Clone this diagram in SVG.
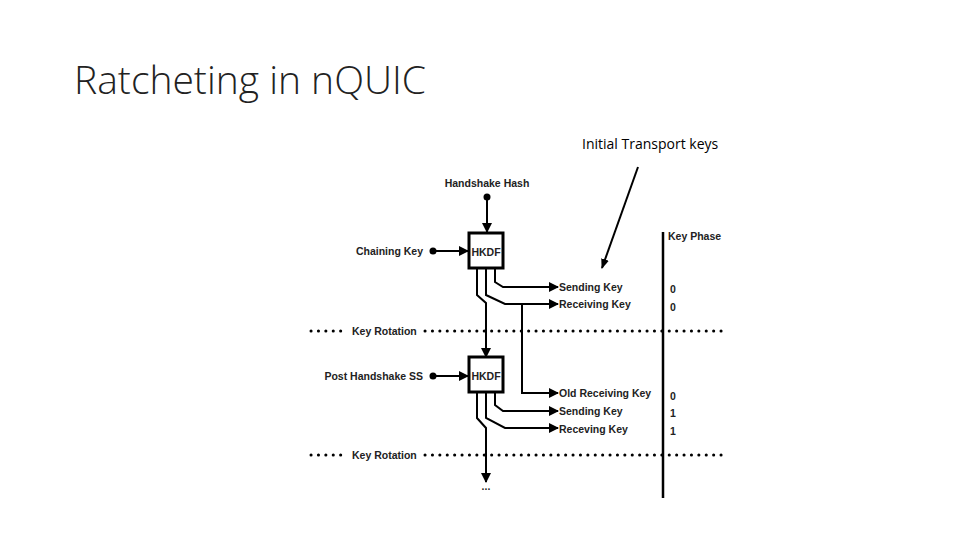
<svg xmlns="http://www.w3.org/2000/svg" width="960" height="540" viewBox="0 0 960 540">
<defs>
<marker id="ah" markerWidth="10" markerHeight="10" refX="9" refY="5" orient="auto" markerUnits="userSpaceOnUse"><path d="M0,0 L10,5 L0,10 Z" fill="#000"/></marker>
<marker id="ah2" markerWidth="10" markerHeight="10" refX="9" refY="5" orient="auto" markerUnits="userSpaceOnUse"><path d="M0,1 L10,5 L0,9 Z" fill="#000"/></marker>
<style>
.t{font-family:"Liberation Sans",Arial,sans-serif;font-weight:bold;font-size:10.5px;fill:#222}
.l{fill:none;stroke:#000;stroke-width:2}
.d{stroke:#000;stroke-width:3;stroke-dasharray:0.1 7.3;stroke-linecap:round}
.b{fill:#fff;stroke:#000;stroke-width:3}
</style>
</defs>
<rect width="960" height="540" fill="#fff"/>
<text x="74" y="94" font-family="Open Sans, Liberation Sans, sans-serif" font-weight="300" font-size="39" fill="#222">Ratcheting in nQUIC</text>
<text x="582" y="149" font-family="Open Sans, Liberation Sans, sans-serif" font-size="14" fill="#000">Initial Transport keys</text>
<line x1="638" y1="167" x2="602" y2="268" stroke="#000" stroke-width="2" marker-end="url(#ah2)"/>
<g id="connectors">
<line class="l" x1="487" y1="197" x2="487" y2="232" marker-end="url(#ah)"/>
<circle cx="487" cy="197" r="3.5"/>
<line class="l" x1="433" y1="251" x2="468" y2="251" marker-end="url(#ah)"/>
<circle cx="433" cy="251" r="3.5"/>
<path class="l" d="M495,269 V282 L503,287 H558" marker-end="url(#ah)"/>
<path class="l" d="M486,269 V295 L505,304 H558" marker-end="url(#ah)"/>
<path class="l" d="M477,269 V295 L486,303 V357" marker-end="url(#ah)"/>
<path class="l" d="M522,304 V393 H558" marker-end="url(#ah)"/>
<line class="l" x1="433" y1="376" x2="468" y2="376" marker-end="url(#ah)"/>
<circle cx="433" cy="376" r="3.5"/>
<path class="l" d="M495,393 V405 L503,411 H558" marker-end="url(#ah)"/>
<path class="l" d="M486,393 V418 L505,428 H558" marker-end="url(#ah)"/>
<path class="l" d="M477,393 V418 L486,428 V482" marker-end="url(#ah)"/>
<line class="d" x1="311" y1="331" x2="345" y2="331"/>
<line class="d" x1="425" y1="331" x2="728" y2="331"/>
<line class="d" x1="311" y1="455" x2="345" y2="455"/>
<line class="d" x1="425" y1="455" x2="728" y2="455"/>
<line x1="663" y1="232" x2="663" y2="498" stroke="#000" stroke-width="2.5"/>
</g>
<g id="hkdf1"><rect class="b" x="469" y="233" width="34" height="35"/><text class="t" x="486" y="256" text-anchor="middle">HKDF</text></g>
<g id="hkdf2"><rect class="b" x="469" y="357" width="34" height="35"/><text class="t" x="486" y="380" text-anchor="middle">HKDF</text></g>
<g id="labels">
<text class="t" x="487" y="187" text-anchor="middle">Handshake Hash</text>
<text class="t" x="423" y="255" text-anchor="end">Chaining Key</text>
<text class="t" x="423" y="380" text-anchor="end">Post Handshake SS</text>
<text class="t" x="559" y="291">Sending Key</text>
<text class="t" x="559" y="308">Receiving Key</text>
<text class="t" x="559" y="397">Old Receiving Key</text>
<text class="t" x="559" y="415">Sending Key</text>
<text class="t" x="559" y="433">Receving Key</text>
<text class="t" x="352" y="335">Key Rotation</text>
<text class="t" x="352" y="459">Key Rotation</text>
<text class="t" x="668" y="240">Key Phase</text>
<text class="t" x="670" y="293">0</text>
<text class="t" x="670" y="311">0</text>
<text class="t" x="670" y="400">0</text>
<text class="t" x="670" y="417">1</text>
<text class="t" x="670" y="435">1</text>
<text class="t" x="486" y="490" text-anchor="middle" font-size="15">...</text>
</g>
</svg>
